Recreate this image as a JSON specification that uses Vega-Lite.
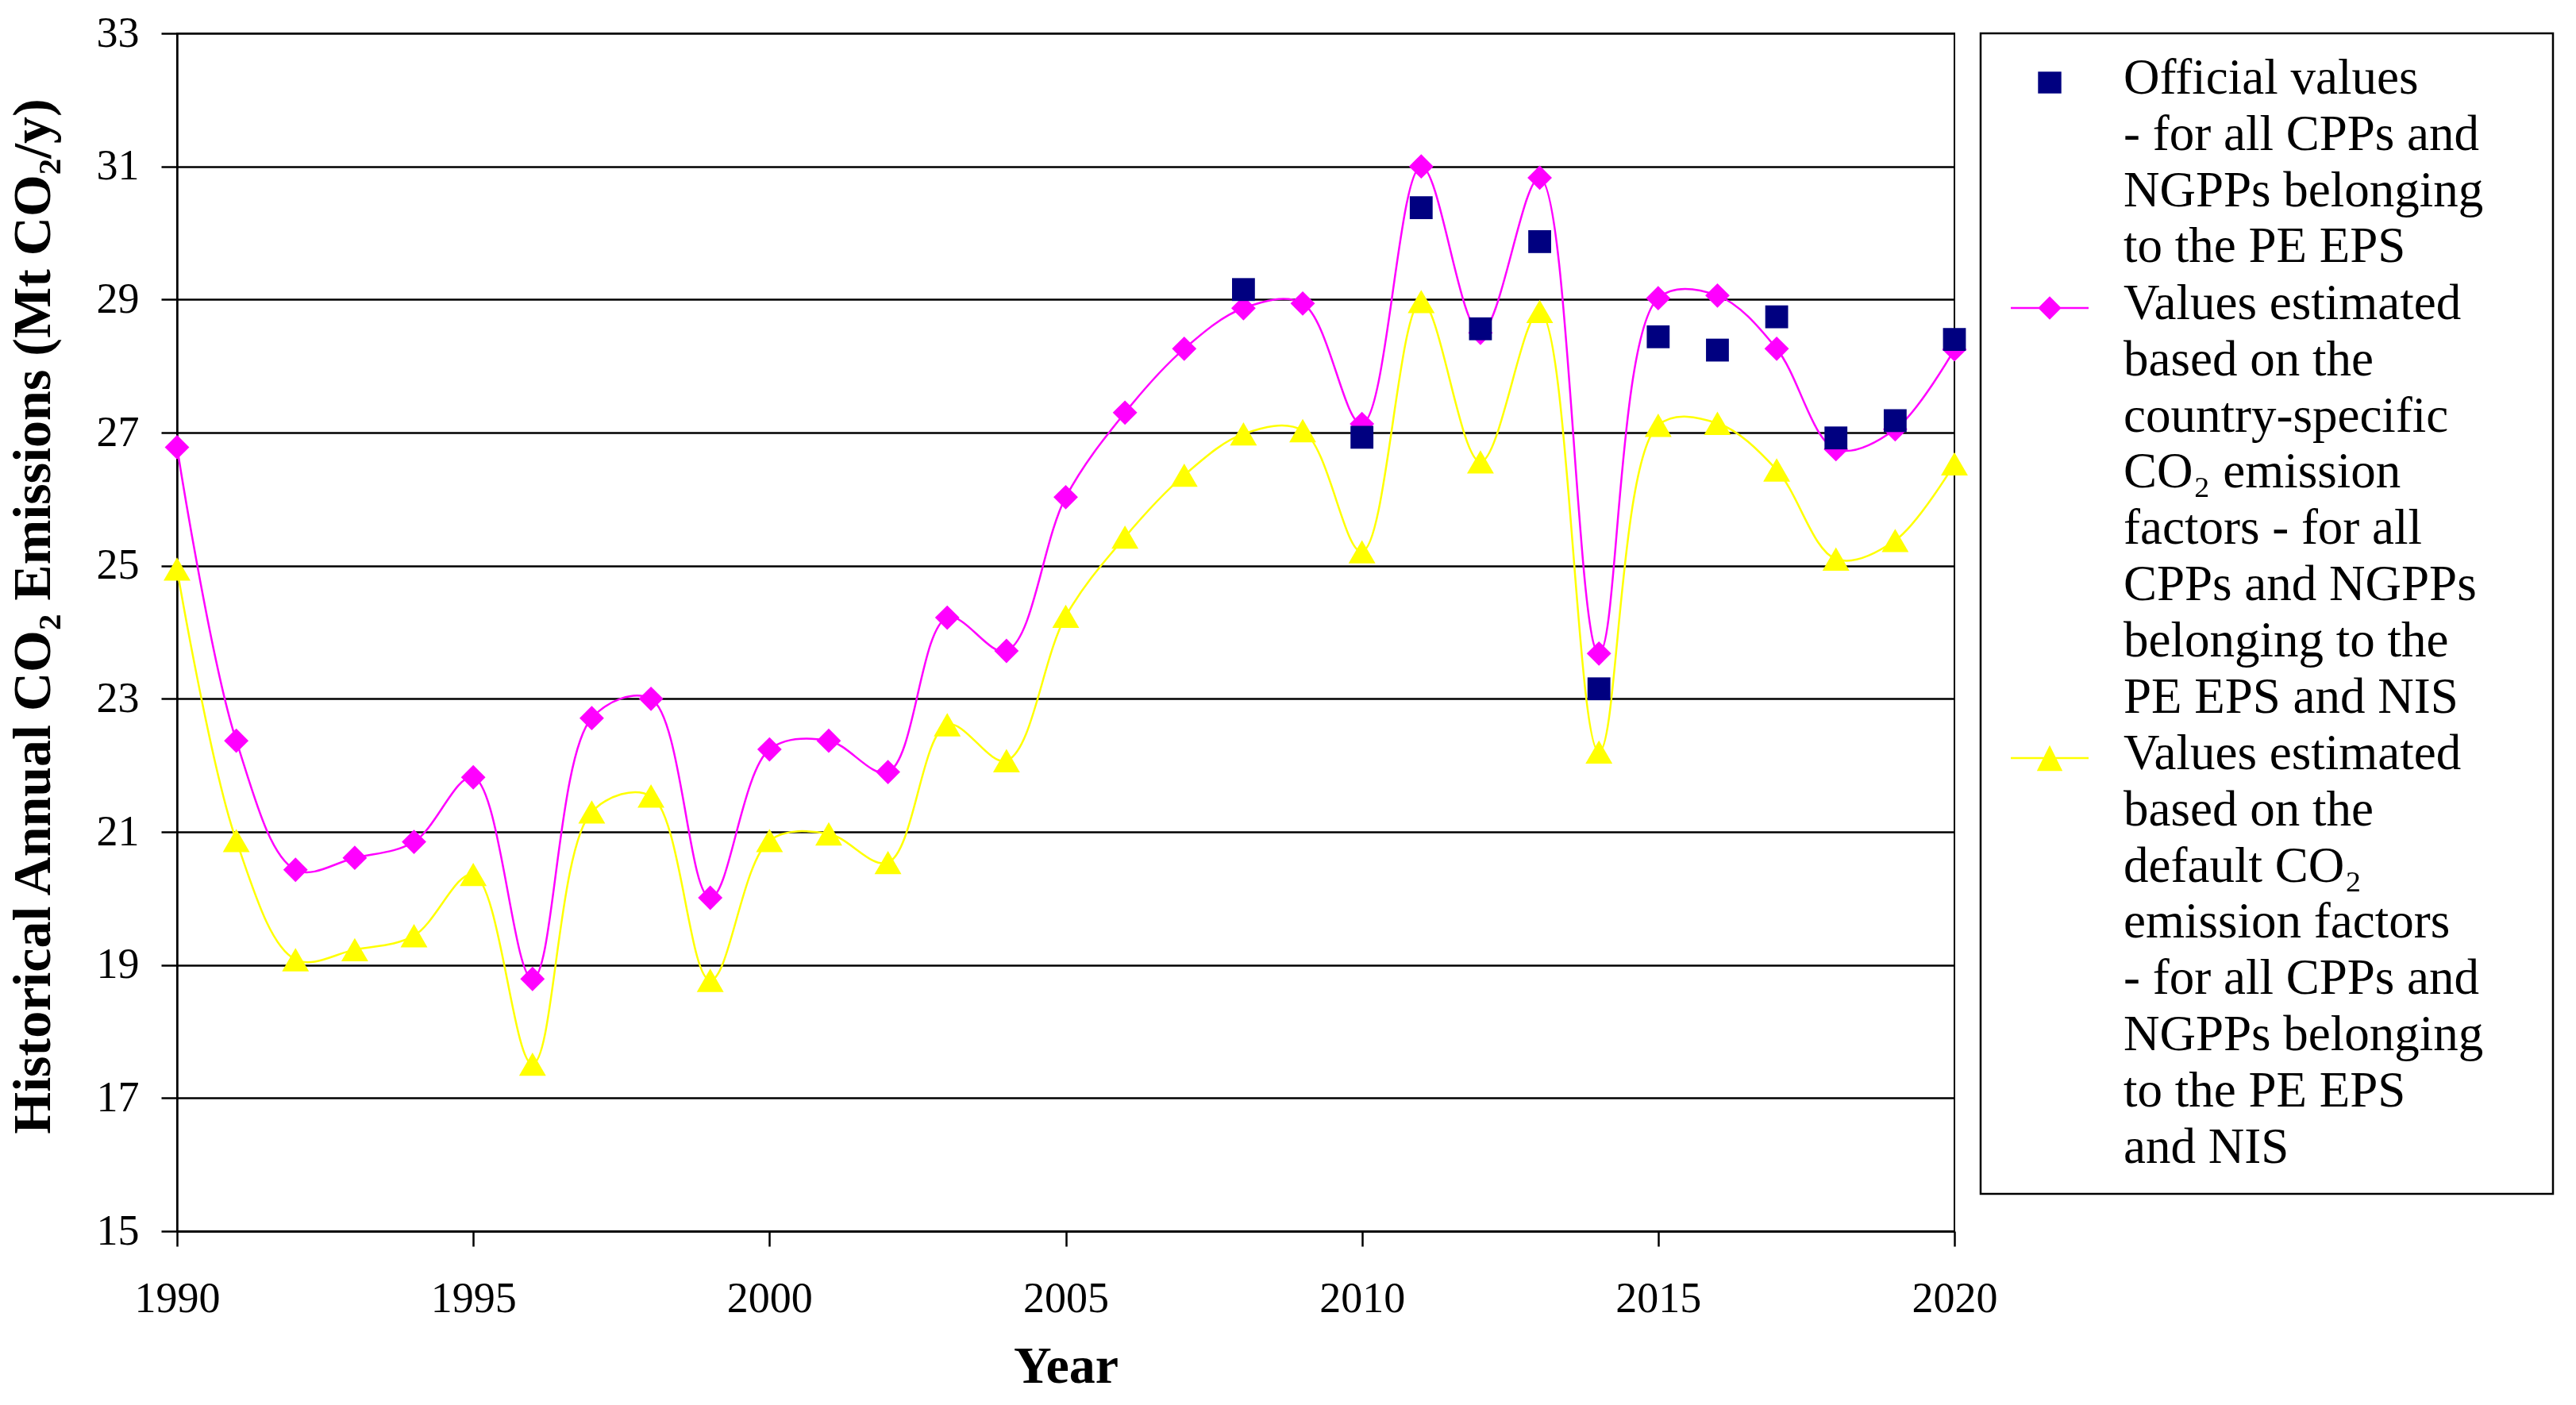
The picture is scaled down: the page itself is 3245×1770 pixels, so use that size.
{
  "$schema": "https://vega.github.io/schema/vega-lite/v6.json",
  "autosize": {"type": "none"},
  "width": 2239,
  "height": 1509,
  "padding": {"left": 223, "top": 42, "right": 783, "bottom": 219},
  "background": "white",
  "config": {
    "view": {"stroke": "#000000", "strokeWidth": 2},
    "font": "Liberation Serif"
  },
  "data": {
    "values": [
      {"year": 1990, "series": "Country-specific EF", "value": 26.78},
      {"year": 1991, "series": "Country-specific EF", "value": 22.37},
      {"year": 1992, "series": "Country-specific EF", "value": 20.43},
      {"year": 1993, "series": "Country-specific EF", "value": 20.61},
      {"year": 1994, "series": "Country-specific EF", "value": 20.85},
      {"year": 1995, "series": "Country-specific EF", "value": 21.82},
      {"year": 1996, "series": "Country-specific EF", "value": 18.79},
      {"year": 1997, "series": "Country-specific EF", "value": 22.71},
      {"year": 1998, "series": "Country-specific EF", "value": 23.0},
      {"year": 1999, "series": "Country-specific EF", "value": 20.01},
      {"year": 2000, "series": "Country-specific EF", "value": 22.24},
      {"year": 2001, "series": "Country-specific EF", "value": 22.37},
      {"year": 2002, "series": "Country-specific EF", "value": 21.9},
      {"year": 2003, "series": "Country-specific EF", "value": 24.22},
      {"year": 2004, "series": "Country-specific EF", "value": 23.72},
      {"year": 2005, "series": "Country-specific EF", "value": 26.03},
      {"year": 2006, "series": "Country-specific EF", "value": 27.3},
      {"year": 2007, "series": "Country-specific EF", "value": 28.26},
      {"year": 2008, "series": "Country-specific EF", "value": 28.87},
      {"year": 2009, "series": "Country-specific EF", "value": 28.94},
      {"year": 2010, "series": "Country-specific EF", "value": 27.13},
      {"year": 2011, "series": "Country-specific EF", "value": 31.0},
      {"year": 2012, "series": "Country-specific EF", "value": 28.5},
      {"year": 2013, "series": "Country-specific EF", "value": 30.83},
      {"year": 2014, "series": "Country-specific EF", "value": 23.68},
      {"year": 2015, "series": "Country-specific EF", "value": 29.02},
      {"year": 2016, "series": "Country-specific EF", "value": 29.06},
      {"year": 2017, "series": "Country-specific EF", "value": 28.26},
      {"year": 2018, "series": "Country-specific EF", "value": 26.75},
      {"year": 2019, "series": "Country-specific EF", "value": 27.05},
      {"year": 2020, "series": "Country-specific EF", "value": 28.25},
      {"year": 1990, "series": "Default EF", "value": 24.95},
      {"year": 1991, "series": "Default EF", "value": 20.87},
      {"year": 1992, "series": "Default EF", "value": 19.08},
      {"year": 1993, "series": "Default EF", "value": 19.23},
      {"year": 1994, "series": "Default EF", "value": 19.44},
      {"year": 1995, "series": "Default EF", "value": 20.36},
      {"year": 1996, "series": "Default EF", "value": 17.51},
      {"year": 1997, "series": "Default EF", "value": 21.3},
      {"year": 1998, "series": "Default EF", "value": 21.54},
      {"year": 1999, "series": "Default EF", "value": 18.77},
      {"year": 2000, "series": "Default EF", "value": 20.87},
      {"year": 2001, "series": "Default EF", "value": 20.97},
      {"year": 2002, "series": "Default EF", "value": 20.54},
      {"year": 2003, "series": "Default EF", "value": 22.61},
      {"year": 2004, "series": "Default EF", "value": 22.07},
      {"year": 2005, "series": "Default EF", "value": 24.24},
      {"year": 2006, "series": "Default EF", "value": 25.43},
      {"year": 2007, "series": "Default EF", "value": 26.36},
      {"year": 2008, "series": "Default EF", "value": 26.98},
      {"year": 2009, "series": "Default EF", "value": 27.03},
      {"year": 2010, "series": "Default EF", "value": 25.21},
      {"year": 2011, "series": "Default EF", "value": 28.97},
      {"year": 2012, "series": "Default EF", "value": 26.56},
      {"year": 2013, "series": "Default EF", "value": 28.82},
      {"year": 2014, "series": "Default EF", "value": 22.2},
      {"year": 2015, "series": "Default EF", "value": 27.11},
      {"year": 2016, "series": "Default EF", "value": 27.14},
      {"year": 2017, "series": "Default EF", "value": 26.44},
      {"year": 2018, "series": "Default EF", "value": 25.1},
      {"year": 2019, "series": "Default EF", "value": 25.38},
      {"year": 2020, "series": "Default EF", "value": 26.53},
      {"year": 2008, "series": "Official values", "value": 29.15},
      {"year": 2010, "series": "Official values", "value": 26.93},
      {"year": 2011, "series": "Official values", "value": 30.38},
      {"year": 2012, "series": "Official values", "value": 28.56},
      {"year": 2013, "series": "Official values", "value": 29.87},
      {"year": 2014, "series": "Official values", "value": 23.15},
      {"year": 2015, "series": "Official values", "value": 28.44},
      {"year": 2016, "series": "Official values", "value": 28.24},
      {"year": 2017, "series": "Official values", "value": 28.74},
      {"year": 2018, "series": "Official values", "value": 26.92},
      {"year": 2019, "series": "Official values", "value": 27.18},
      {"year": 2020, "series": "Official values", "value": 28.4}
    ]
  },
  "encoding": {
    "x": {
      "field": "year",
      "type": "quantitative",
      "scale": {"domain": [1990, 2020], "nice": false, "zero": false},
      "axis": {
        "values": [1990, 1995, 2000, 2005, 2010, 2015, 2020],
        "format": "d",
        "grid": false,
        "domainColor": "#000000",
        "domainWidth": 2.5,
        "tickColor": "#000000",
        "tickWidth": 2.5,
        "tickSize": 19,
        "labelFont": "Liberation Serif",
        "labelFontSize": 54,
        "labelColor": "#000000",
        "labelPadding": 39,
        "labelFlush": false,
        "labelOverlap": false,
        "title": "Year",
        "titleFont": "Liberation Serif",
        "titleFontSize": 66,
        "titleFontWeight": "bold",
        "titleColor": "#000000",
        "titlePadding": 26
      }
    },
    "y": {
      "field": "value",
      "type": "quantitative",
      "scale": {"domain": [15, 33], "nice": false, "zero": false},
      "axis": {
        "values": [15, 17, 19, 21, 23, 25, 27, 29, 31, 33],
        "grid": true,
        "gridColor": "#000000",
        "gridWidth": 2.5,
        "gridOpacity": 1,
        "domainColor": "#000000",
        "domainWidth": 2.5,
        "tickColor": "#000000",
        "tickWidth": 2.5,
        "tickSize": 20,
        "labelFont": "Liberation Serif",
        "labelFontSize": 54,
        "labelColor": "#000000",
        "labelPadding": 28,
        "labelFlush": false,
        "labelOverlap": false,
        "title": "Historical Annual CO₂ Emissions (Mt CO₂/y)",
        "titleFont": "Liberation Serif",
        "titleFontSize": 68,
        "titleFontWeight": "bold",
        "titleColor": "#000000",
        "titlePadding": 45,
        "titleY": 734
      }
    },
    "color": {
      "field": "series",
      "type": "nominal",
      "scale": {
        "domain": ["Official values", "Country-specific EF", "Default EF"],
        "range": ["#000080", "#ff00ff", "#ffff00"]
      },
      "legend": {
        "title": " ",
        "titleOrient": "right",
        "titleFontSize": 8,
        "titlePadding": 62,
        "orient": "right",
        "offset": 28,
        "padding": 26,
        "strokeColor": "#000000",
        "fillColor": "#ffffff",
        "symbolSize": 9604,
        "symbolOpacity": 1,
        "symbolOffset": 12,
        "labelOffset": 44,
        "labelFont": "Liberation Serif",
        "labelFontSize": 63,
        "labelColor": "#000000",
        "labelLimit": 900,
        "labelBaseline": "alphabetic",
        "rowPadding": 8,
        "labelExpr": "datum.label === 'Official values' ? ['Official values', '- for all CPPs and', 'NGPPs belonging', 'to the PE EPS'] : datum.label === 'Country-specific EF' ? ['Values estimated', 'based on the', 'country-specific', 'CO₂ emission', 'factors - for all', 'CPPs and NGPPs', 'belonging to the', 'PE EPS and NIS'] : ['Values estimated', 'based on the', 'default CO₂', 'emission factors', '- for all CPPs and', 'NGPPs belonging', 'to the PE EPS', 'and NIS']",
        "encode": {
          "legend": {"update": {"strokeWidth": {"value": 2.5}}},
          "labels": {"update": {"lineHeight": {"value": 70.8}, "dy": {"value": 14}, "y": {"value": 36}}},
          "symbols": {
            "update": {
              "y": {"value": 36},
              "size": {"value": 9604},
              "strokeWidth": {"value": 0},
              "opacity": {"value": 1},
              "shape": {"signal": "datum.value === 'Official values' ? 'M-0.3,-0.28L0.3,-0.28L0.3,0.28L-0.3,0.28Z' : datum.value === 'Country-specific EF' ? 'M-1,-0.026L1,-0.026L1,0.026L-1,0.026Z M0,-0.3L0.3,0L0,0.3L-0.3,0Z' : 'M-1,-0.026L1,-0.026L1,0.026L-1,0.026Z M0,-0.33L0.33,0.33L-0.33,0.33Z'"}
            }
          }
        }
      }
    }
  },
  "layer": [
    {
      "transform": [{"filter": "datum.series !== 'Official values'"}],
      "mark": {"type": "line", "interpolate": "catmull-rom", "strokeWidth": 2.5}
    },
    {
      "transform": [{"filter": "datum.series === 'Country-specific EF'"}],
      "mark": {"type": "point", "filled": true, "opacity": 1, "shape": "diamond", "size": 950}
    },
    {
      "transform": [{"filter": "datum.series === 'Default EF'"}],
      "mark": {"type": "point", "filled": true, "opacity": 1, "shape": "triangle-up", "size": 1150}
    },
    {
      "transform": [{"filter": "datum.series === 'Official values'"}],
      "mark": {"type": "point", "filled": true, "opacity": 1, "shape": "square", "size": 830}
    }
  ]
}
